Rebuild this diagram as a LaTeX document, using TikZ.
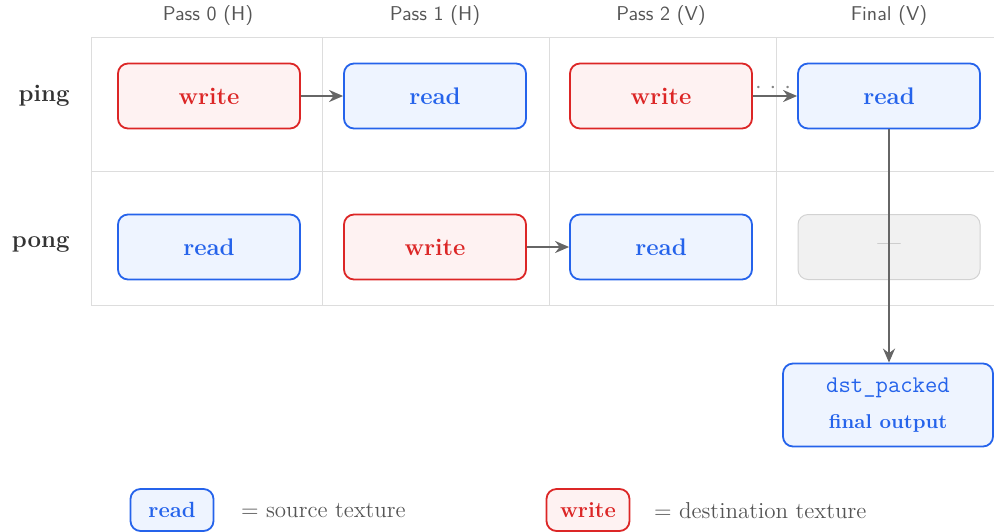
\documentclass[tikz,border=0pt]{standalone}
\usetikzlibrary{arrows.meta}
\definecolor{srcline}{HTML}{2563EB}
\definecolor{srcfill}{HTML}{EEF4FF}
\definecolor{dstline}{HTML}{DC2626}
\definecolor{dstfill}{HTML}{FEF2F2}
\definecolor{gridc}{HTML}{DDDDDD}
\definecolor{headc}{HTML}{555555}
\definecolor{rowc}{HTML}{333333}
\definecolor{arrc}{HTML}{666666}
\definecolor{idlefill}{HTML}{F1F1F1}
\definecolor{idleline}{HTML}{D2D2D2}
\tikzset{
  tex/.style={rounded corners=5pt, line width=0.9pt, minimum width=91pt, minimum height=32.5pt,
    font=\fontsize{12}{14}\selectfont\bfseries, inner sep=0pt},
  srcbox/.style={tex, draw=srcline, fill=srcfill, text=srcline},
  dstbox/.style={tex, draw=dstline, fill=dstfill, text=dstline},
  idlebox/.style={tex, draw=idleline, fill=idlefill, line width=0.5pt},
  legsrc/.style={srcbox, minimum width=41.5pt, minimum height=21pt, font=\fontsize{11}{13}\selectfont\bfseries},
  legdst/.style={dstbox, minimum width=41.5pt, minimum height=21pt, font=\fontsize{11}{13}\selectfont\bfseries},
  head/.style={font=\sffamily\fontsize{10}{12}\selectfont, text=headc},
  rowlab/.style={font=\fontsize{12}{14}\selectfont\bfseries, text=rowc, anchor=east, inner sep=0pt},
  legtxt/.style={font=\fontsize{11.5}{13.5}\selectfont, text=headc, anchor=west},
  flow/.style={draw=arrc, line width=1pt, -{Stealth[length=7pt,width=6pt]}},
  gridline/.style={draw=gridc, line width=0.5pt}
}
\begin{document}
\begin{tikzpicture}[x=0.5pt, y=-0.5pt]
\useasboundingbox (0,0) rectangle (994,531);

% table grid
\draw[gridline] (91,37) rectangle (1003,305);
\draw[gridline] (91,171) -- (1003,171);
\foreach \gx in {322,549,776} \draw[gridline] (\gx,37) -- (\gx,305);

% column headers
\node[head] (h0) at (208,15) {Pass 0 (H)};
\node[head] (h1) at (435,15) {Pass 1 (H)};
\node[head] (h2) at (661,15) {Pass 2 (V)};
\node[head] (h3) at (889,15) {Final (V)};

% row labels
\node[rowlab] (lping) at (70,96) {ping};
\node[rowlab] (lpong) at (70,244) {pong};

% ping row
\node[dstbox] (a0) at (209,96) {write};
\node[srcbox] (a1) at (435,96) {read};
\node[dstbox] (a2) at (661,96) {write};
\node[srcbox] (a3) at (889,96) {read};

% pong row
\node[srcbox] (b0) at (209,247) {read};
\node[dstbox] (b1) at (435,247) {write};
\node[srcbox] (b2) at (661,247) {read};
\node[idlebox] (b3) at (889,247) {};
\node[text=idleline!80!black, font=\fontsize{12}{14}\selectfont] (b3dash) at (b3.center) {---};

% output texture
\node[srcbox, minimum width=105pt, minimum height=41.5pt, align=center] (out) at (888,405)
  {{\ttfamily\mdseries\fontsize{12}{14}\selectfont dst\_packed}\\[4pt]{\fontsize{10}{12}\selectfont final output}};

% data flow
\draw[flow] (a0.east) -- (a1.west);
\draw[flow] (b1.east) -- (b2.west);
\draw[flow] (a2.east) -- (a3.west);
\node[text=arrc!80, font=\fontsize{13}{15}\selectfont, inner sep=0pt] (gap) at (773,88) {$\cdotp\,\cdotp\,\cdotp$};
\draw[flow] (a3.south) -- (a3.south |- out.north);

% legend
\node[legsrc] (k0) at (172,510) {read};
\node[legtxt] (k0t) at (234,511) {= source texture};
\node[legdst] (k1) at (588,510) {write};
\node[legtxt] (k1t) at (647,511) {= destination texture};
\end{tikzpicture}
\end{document}
